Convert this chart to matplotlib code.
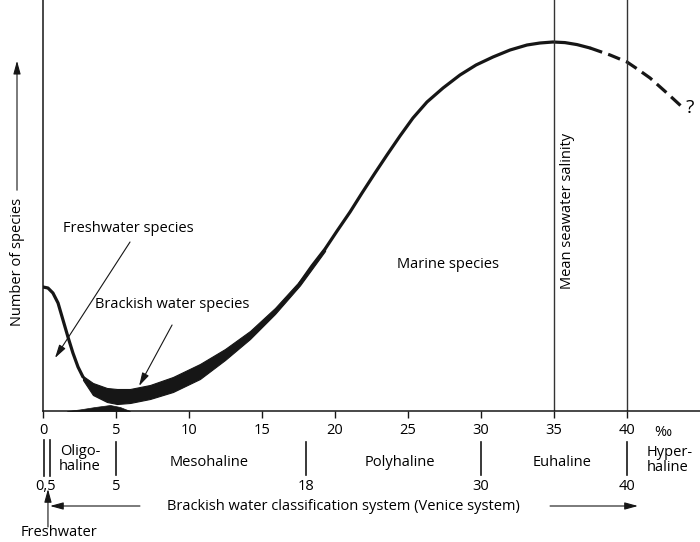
import matplotlib
matplotlib.use("Agg")
import matplotlib.pyplot as plt
import matplotlib.transforms as mtransforms

plt.rcParams['font.family'] = ['Open Sans', 'DejaVu Sans']

# salinity (per mille) ticks
ticks = [0, 5, 10, 15, 20, 25, 30, 35, 40]

# freshwater species curve (thin part, left)
fresh_x = [0, 0.34, 0.68, 1.03, 1.37, 1.71, 2.05, 2.40, 2.74]
fresh_y = [31.0, 30.75, 29.5, 27.0, 22.75, 18.5, 14.5, 11.0, 8.5]

# thick band (total species, low salinity)
band_x = [2.74, 3.42, 4.38, 5.07, 5.96, 7.33, 8.90, 10.75, 12.47, 14.18, 15.89, 17.60, 19.32]
band_hi = [8.75, 7.0, 5.75, 5.5, 5.5, 6.5, 8.5, 11.75, 15.5, 20.0, 25.75, 32.6, 41.0]
band_lo = [7.75, 4.0, 2.25, 1.75, 2.0, 3.0, 4.75, 8.0, 12.75, 18.0, 24.25, 31.4, 40.0]

# marine species curve
marine_x = [17.6, 18.42, 19.32, 20.14, 21.03, 21.85, 22.74, 23.56, 24.45, 25.34, 26.3,
            27.4, 28.56, 29.66, 30.82, 31.99, 33.15, 34.04, 34.93, 35.75, 36.58, 37.47]
marine_y = [32.0, 36.25, 40.5, 45.0, 49.75, 54.5, 59.5, 64.0, 68.75, 73.25, 77.25,
            80.75, 84.0, 86.5, 88.5, 90.25, 91.5, 92.0, 92.25, 92.1, 91.6, 90.75]

# uncertain part (hyperhaline)
hyper_x = [37.47, 38.84, 40.0, 40.75, 41.58, 42.81, 43.70]
hyper_y = [90.75, 89.0, 87.25, 85.4, 83.25, 79.25, 76.25]

# brackish water species (small spindle at the base)
brack_x = [1.64, 2.53, 3.56, 4.59, 5.27, 5.96]
brack_y = [0, 0.4, 1.0, 1.5, 1.0, 0]

# Venice system boundaries and zone names
venice_bounds = [5, 18, 30, 40]
venice_labels = ["5", "18", "30", "40"]
zones = ["Mesohaline", "Polyhaline", "Euhaline"]
zone_x = [11.37, 24.45, 35.55]

W, H = 700, 542
fig = plt.figure(figsize=(W / 100, H / 100), dpi=100)
ax = fig.add_axes([43 / W, (H - 411) / H, (W - 43) / W, 411 / H])
ax.set_xlim(0, 45.0)
ax.set_ylim(0, 102.75)

ink = '#161616'
fs = 10.5

ax.plot(fresh_x, fresh_y, color=ink, lw=2.3, solid_capstyle='round', solid_joinstyle='round')
ax.fill_between(band_x, band_lo, band_hi, color=ink, lw=0.8, edgecolor=ink)
ax.plot(marine_x, marine_y, color=ink, lw=2.3, solid_capstyle='round', solid_joinstyle='round')
ax.plot(hyper_x, hyper_y, color=ink, lw=2.3, linestyle=(0, (4, 2)))
ax.fill_between(brack_x, 0, brack_y, color=ink, lw=0.5)

# mean seawater & hyperhaline limits
ax.axvline(35, color='#333333', lw=1.0)
ax.axvline(40, color='#333333', lw=1.0)

for s in ['top', 'right']:
    ax.spines[s].set_visible(False)
for s in ['left', 'bottom']:
    ax.spines[s].set_color(ink)
    ax.spines[s].set_linewidth(1.1)
ax.set_yticks([])
ax.set_xticks(ticks)
ax.set_xticklabels([str(t) for t in ticks], fontsize=fs)
ax.tick_params(axis='x', direction='out', length=5, width=1, color=ink, pad=4)

arr = dict(arrowstyle='-|>,head_length=0.8,head_width=0.22', color=ink, lw=0.8,
           shrinkA=0, shrinkB=0, mutation_scale=10)

ax.text(1.37, 45.5, "Freshwater species", fontsize=fs, va='center', ha='left')
ax.annotate("", xy=(0.82, 13.25), xytext=(5.96, 42.25), arrowprops=arr)
ax.text(3.56, 26.5, "Brackish water species", fontsize=fs, va='center', ha='left')
ax.annotate("", xy=(6.58, 6.25), xytext=(8.84, 21.5), arrowprops=arr)
ax.text(24.25, 36.75, "Marine species", fontsize=fs, va='center', ha='left')
ax.text(35.9, 50, "Mean seawater salinity", fontsize=fs, rotation=90, va='center', ha='center')
ax.text(44.3, 75.75, "?", fontsize=14, va='center', ha='center')

# below the axis: x in data, y in figure pixels
tr = mtransforms.blended_transform_factory(ax.transData, fig.transFigure)


def fy(py):
    return 1 - py / H


ax.text(42.47, fy(432), "‰", transform=tr, fontsize=fs, va='center', ha='center', clip_on=False)

bar = dict(color=ink, lw=1.2, transform=tr, clip_on=False)
ax.plot([0.08, 0.08], [fy(440), fy(476)], **bar)
ax.plot([0.5, 0.5], [fy(440), fy(476)], **bar)
for b in venice_bounds:
    ax.plot([b, b], [fy(442), fy(475)], **bar)
ax.text(0.2, fy(486), "0,5", transform=tr, fontsize=fs, va='center', ha='center')
for b, lab in zip(venice_bounds, venice_labels):
    ax.text(b, fy(486), lab, transform=tr, fontsize=fs, va='center', ha='center')

ax.text(2.53, fy(459), "Oligo-\nhaline", transform=tr, fontsize=fs, va='center',
        ha='center', linespacing=1.0)
for z, zx in zip(zones, zone_x):
    ax.text(zx, fy(462), z, transform=tr, fontsize=fs, va='center', ha='center')
ax.text(41.37, fy(460), "Hyper-\nhaline", transform=tr, fontsize=fs, va='center',
        ha='left', linespacing=1.0)

ax.text(20.55, fy(507), "Brackish water classification system (Venice system)",
        transform=tr, fontsize=fs, va='center', ha='center')
ax.annotate("", xy=(0.48, fy(506)), xytext=(6.64, fy(506)), xycoords=tr,
            textcoords=tr, arrowprops=arr, annotation_clip=False)
ax.annotate("", xy=(40.75, fy(506)), xytext=(34.73, fy(506)), xycoords=tr,
            textcoords=tr, arrowprops=arr, annotation_clip=False)
ax.annotate("", xy=(0.34, fy(489)), xytext=(0.34, fy(527)), xycoords=tr,
            textcoords=tr, arrowprops=arr, annotation_clip=False)
ax.text(1.1, fy(533), "Freshwater", transform=tr, fontsize=fs, va='center', ha='center')

# y axis label with arrow
fig.text(18 / W, fy(262), "Number of species", rotation=90, fontsize=fs,
         va='center', ha='center')
fig.add_artist(matplotlib.patches.FancyArrowPatch(
    (17 / W, fy(193)), (17 / W, fy(58)), transform=fig.transFigure,
    arrowstyle='-|>,head_length=0.8,head_width=0.22', color=ink, lw=0.8,
    mutation_scale=10))

fig.savefig("out.png", dpi=100)
